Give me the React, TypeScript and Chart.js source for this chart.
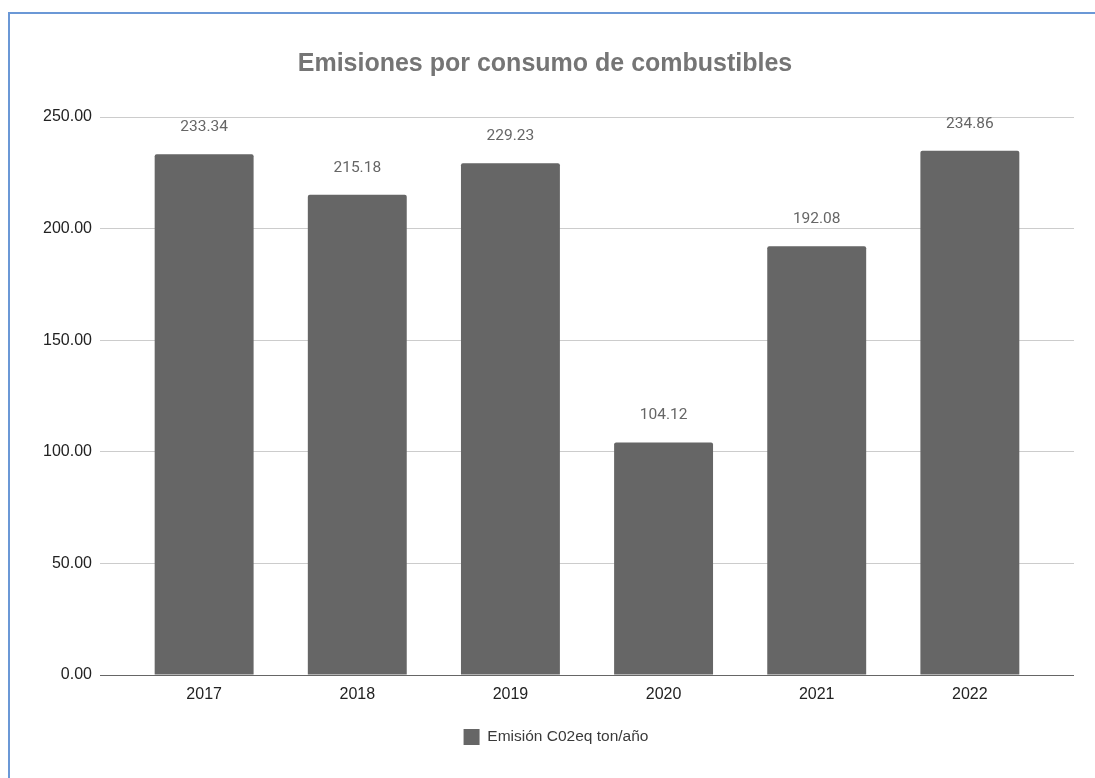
import React, { useEffect, useRef } from "react";
import { Chart, registerables } from "chart.js";

Chart.register(...registerables);

const categories: string[] = ["2017", "2018", "2019", "2020", "2021", "2022"];
const emissions: number[] = [233.34, 215.18, 229.23, 104.12, 192.08, 234.86];
const seriesLabel = "Emisión C02eq ton/año";
const chartTitle = "Emisiones por consumo de combustibles";
const yTicks: number[] = [0, 50, 100, 150, 200, 250];

const FONT = "Roboto, 'Liberation Sans', Arial, sans-serif";
const SANS = "'Liberation Sans', Arial, sans-serif";

const dataLabelPlugin = {
  id: "dataLabels",
  afterDatasetsDraw(chart: any) {
    const ctx = chart.ctx;
    const meta = chart.getDatasetMeta(0);
    ctx.save();
    ctx.font = `15.5px ${FONT}`;
    ctx.fillStyle = "#666666";
    ctx.textAlign = "center";
    ctx.textBaseline = "middle";
    meta.data.forEach((el: any, i: number) => {
      ctx.fillText(emissions[i].toFixed(2), el.x, el.y - 27);
    });
    ctx.restore();
  },
};

const legendShiftPlugin = {
  id: "legendShift",
  afterLayout(chart: any) {
    if (chart.legend) {
      chart.legend.left += 22;
    }
  },
};

export default function App() {
  const ref = useRef<HTMLCanvasElement | null>(null);

  useEffect(() => {
    if (!ref.current) return;
    const chart = new Chart(ref.current, {
      type: "bar",
      data: {
        datasets: [
          {
            label: seriesLabel,
            data: emissions.map((v, i) => ({ x: i, y: v })),
            backgroundColor: "#666666",
            borderRadius: { topLeft: 2, topRight: 2, bottomLeft: 0, bottomRight: 0 },
            borderSkipped: "bottom",
            barPercentage: 0.646,
            categoryPercentage: 1,
          },
        ],
      },
      options: {
        animation: false,
        responsive: false,
        maintainAspectRatio: false,
        layout: { padding: { left: 16, right: 21, top: 0, bottom: 23 } },
        plugins: {
          title: {
            display: true,
            text: chartTitle,
            color: "#757575",
            font: { family: SANS, size: 25, weight: "bold", lineHeight: 1.2 },
            padding: { top: 49, bottom: 38 },
          },
          legend: {
            display: true,
            position: "bottom",
            labels: {
              color: "#3a3a3a",
              font: { family: SANS, size: 15.5 },
              boxWidth: 16,
              boxHeight: 16,
              padding: 10,
            },
          },
          tooltip: { enabled: false },
        },
        scales: {
          x: {
            type: "linear",
            offset: false,
            bounds: "ticks",
            min: -0.68,
            max: 5.68,
            grid: { display: false, drawTicks: false },
            border: { display: false },
            afterBuildTicks: (scale: any) => {
              scale.ticks = categories.map((_, i) => ({ value: i }));
            },
            afterFit: (scale: any) => {
              scale.height = 44;
            },
            ticks: {
              padding: 10,
              color: "#222222",
              font: { family: SANS, size: 16 },
              autoSkip: false,
              maxRotation: 0,
              callback: (v: any) => categories[Math.round(Number(v))] ?? "",
            },
          },
          y: {
            min: 0,
            max: 250,
            afterBuildTicks: (scale: any) => {
              scale.ticks = yTicks.map((v) => ({ value: v }));
            },
            afterFit: (scale: any) => {
              scale.width = 84;
            },
            grid: {
              drawTicks: false,
              color: (c: any) => (c.tick && c.tick.value === 0 ? "#666666" : "#cccccc"),
              lineWidth: 1,
            },
            border: { display: false },
            ticks: {
              padding: 8,
              color: "#222222",
              font: { family: SANS, size: 16 },
              callback: (v: any) => Number(v).toFixed(2),
            },
          },
        },
      },
      plugins: [dataLabelPlugin, legendShiftPlugin],
    } as any);
    return () => chart.destroy();
  }, []);

  return (
    <div
      style={{
        position: "fixed",
        left: 0,
        top: 0,
        width: 1095,
        height: 778,
        background: "#ffffff",
        overflow: "hidden",
      }}
    >
      <canvas ref={ref} width={1095} height={778} style={{ width: 1095, height: 778, display: "block" }} />
      <div
        style={{
          position: "absolute",
          left: 8,
          top: 12,
          right: -10,
          bottom: -10,
          borderLeft: "2px solid #6b98d6",
          borderTop: "2px solid #6b98d6",
          pointerEvents: "none",
        }}
      />
    </div>
  );
}
